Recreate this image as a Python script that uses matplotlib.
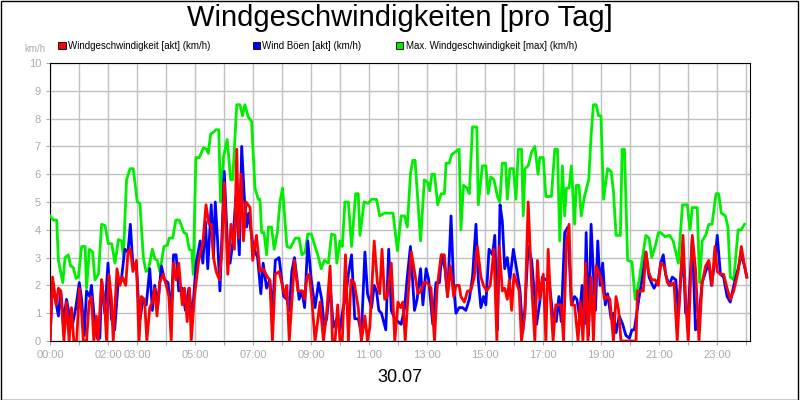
import matplotlib.pyplot as plt
from matplotlib.patches import Rectangle

plt.rcParams["font.family"] = "Liberation Sans"

# Zeit in Stunden, Werte in km/h
max_h = [0, 0.115, 0.23, 0.29, 0.44, 0.52, 0.63, 0.71, 0.80, 0.90, 0.98, 1.09, 1.21, 1.26, 1.36, 1.47,
         1.55, 1.67, 1.78, 1.90, 2.01, 2.13, 2.24, 2.36, 2.47, 2.53, 2.64, 2.76, 2.87, 3.01, 3.10, 3.22,
         3.31, 3.39, 3.53, 3.62, 3.70, 3.79, 3.93, 4.05, 4.11, 4.23, 4.34, 4.46, 4.62, 4.71, 4.80, 4.89,
         4.94, 5.03, 5.15, 5.29, 5.40, 5.46, 5.54, 5.63, 5.72, 5.82, 5.88, 5.98, 6.11, 6.23, 6.30, 6.44,
         6.55, 6.64, 6.72, 6.84, 6.95, 7.07, 7.18, 7.24, 7.30, 7.38, 7.47, 7.53, 7.64, 7.73, 7.84, 7.93,
         8.02, 8.17, 8.29, 8.46, 8.59, 8.69, 8.80, 8.89, 9.01, 9.14, 9.26, 9.35, 9.46, 9.60, 9.71, 9.83,
         9.89, 10.0, 10.08, 10.17, 10.29, 10.40, 10.54, 10.63, 10.69, 10.83, 10.97, 11.09, 11.26, 11.37,
         11.54, 11.83, 11.98, 12.11, 12.23, 12.32, 12.43, 12.51, 12.59, 12.78, 12.91, 13.03, 13.09, 13.17,
         13.26, 13.37, 13.49, 13.60, 13.66, 13.77, 13.85, 13.97, 14.11, 14.17, 14.26, 14.38, 14.46, 14.57,
         14.72, 14.77, 14.91, 15.03, 15.11, 15.2, 15.31, 15.43, 15.51, 15.6, 15.71, 15.77,
         15.86, 15.98, 16.07, 16.15, 16.26, 16.32, 16.38, 16.49, 16.61, 16.72, 16.83, 16.89, 17.01, 17.10,
         17.29, 17.41, 17.5, 17.58, 17.67, 17.75, 17.81, 17.9, 17.98, 18.09, 18.15, 18.24, 18.32, 18.43,
         18.58, 18.66, 18.74, 18.83, 18.92, 19.0, 19.09, 19.23, 19.35, 19.43, 19.52, 19.67, 19.73, 19.81,
         19.92, 20.07, 20.18, 20.32, 20.43, 20.55, 20.66, 20.75, 20.87, 20.98, 21.06, 21.21, 21.37, 21.49,
         21.67, 21.81, 21.98, 22.07, 22.15, 22.32, 22.4, 22.49, 22.61, 22.72, 22.83, 22.97, 23.06, 23.15,
         23.29, 23.38, 23.46, 23.58, 23.73, 23.84, 23.95]
max_v = [4.5, 4.35, 4.35, 2.9, 2.1, 3.0, 3.1, 2.7, 2.65, 2.25, 2.3, 3.4, 3.4, 1.9, 3.3, 3.2,
         2.2, 2.4, 4.2, 4.15, 3.5, 3.5, 2.8, 3.65, 3.6, 3.05, 5.8, 6.2, 6.2, 5.0, 4.95, 3.0,
         2.5, 2.55, 3.3, 2.95, 2.9, 2.5, 3.4, 3.45, 3.7, 3.7, 4.35, 4.35, 3.9, 3.85, 3.3, 3.25,
         2.4, 6.6, 6.6, 6.95, 6.9, 6.75, 7.45, 7.5, 7.6, 7.6, 5.0, 6.6, 7.25, 5.8, 5.8, 8.5,
         8.5, 8.1, 8.5, 8.05, 7.9, 5.5, 5.1, 5.1, 3.9, 3.9, 3.1, 4.1, 4.1, 3.3, 3.9, 5.0,
         5.5, 3.4, 3.35, 3.7, 3.7, 3.1, 3.2, 3.85, 3.85, 3.4, 3.0, 2.6, 2.9, 2.8, 3.85, 3.8,
         2.8, 3.6, 3.4, 5.0, 5.0, 3.4, 5.3, 5.3, 3.8, 5.0, 4.95, 5.1, 5.1, 4.5,
         4.6, 4.6, 3.25, 4.5, 4.5, 4.1, 6.0, 6.5, 6.5, 3.6, 5.8, 5.7, 5.4, 6.0,
         6.0, 4.9, 5.3, 5.3, 6.4, 6.4, 6.7, 6.8, 6.9, 4.0, 5.6, 5.5, 5.3, 7.7,
         7.7, 4.9, 6.3, 6.3, 5.3, 5.9, 5.8, 5.2, 5.0, 6.4, 6.4, 5.1,
         6.2, 6.2, 5.1, 6.9, 6.9, 4.5, 6.2, 6.3, 6.8, 7.0, 6.0, 6.6, 6.6, 5.2,
         5.2, 6.9, 6.9, 3.6, 6.3, 4.5, 5.5, 5.5, 6.3, 4.2, 5.6, 5.6, 4.5, 5.2,
         5.8, 7.4, 8.5, 8.5, 8.1, 8.1, 5.1, 6.2, 6.1, 5.4, 3.8, 3.8, 6.9, 6.9,
         2.9, 2.85, 1.5, 2.2, 3.0, 3.8, 3.7, 3.0, 3.4, 3.9, 3.9, 3.75, 3.8, 3.6,
         2.8, 4.9, 4.9, 4.0, 4.8, 4.8, 2.1, 3.6, 3.8, 4.2, 4.2, 5.3, 5.3, 4.6,
         4.5, 4.1, 2.3, 2.2, 4.0, 4.0, 4.2]

boeen_h = [0, 0.09, 0.17, 0.29, 0.37, 0.46, 0.57, 0.69, 0.78, 0.89, 1.01, 1.09, 1.18, 1.26, 1.37, 1.43,
           1.55, 1.63, 1.72, 1.78, 1.89, 2.0, 2.12, 2.23, 2.35, 2.46, 2.58, 2.69, 2.77, 2.86, 2.98, 3.09,
           3.21, 3.32, 3.44, 3.53, 3.61, 3.72, 3.84, 3.95, 4.07, 4.18, 4.26, 4.35, 4.44, 4.56, 4.67, 4.79,
           4.90, 5.04, 5.18, 5.27, 5.36, 5.44, 5.56, 5.64, 5.70, 5.78, 5.86, 6.01, 6.13, 6.21, 6.30, 6.41,
           6.53, 6.61, 6.70, 6.78, 6.85, 6.99, 7.08, 7.16, 7.27, 7.35, 7.47, 7.58, 7.67, 7.77, 7.90,
           8.06, 8.17, 8.25, 8.34, 8.43, 8.51, 8.59, 8.69, 8.78, 8.89, 9.01, 9.14, 9.26, 9.37, 9.46, 9.54,
           9.66, 9.77, 9.89, 10.0, 10.11, 10.19, 10.29, 10.4, 10.51, 10.63, 10.74, 10.86, 10.95, 11.09,
           11.18, 11.26, 11.34, 11.43, 11.58, 11.68, 11.77, 11.89, 12.0, 12.11, 12.23, 12.32, 12.43, 12.57,
           12.66, 12.78, 12.86, 12.97, 13.06, 13.2, 13.31, 13.43, 13.51, 13.62, 13.71, 13.83, 13.92, 14.0,
           14.11, 14.23, 14.34, 14.46, 14.57, 14.69, 14.77, 14.86, 14.95, 15.03, 15.14, 15.26, 15.34, 15.43,
           15.52, 15.6, 15.68, 15.77,
           15.86, 15.98, 16.09, 16.21, 16.3, 16.38, 16.49, 16.61, 16.72, 16.78, 16.89, 16.98, 17.1, 17.21,
           17.33, 17.46, 17.55, 17.63, 17.75, 17.86, 17.98, 18.09, 18.17, 18.26, 18.35, 18.43, 18.49, 18.57,
           18.66, 18.74, 18.81, 18.89, 18.97, 19.06, 19.15, 19.23, 19.35, 19.43, 19.52, 19.63, 19.75, 19.86,
           19.98, 20.07, 20.15, 20.32, 20.43, 20.55, 20.66, 20.78, 20.83, 20.98, 21.06, 21.15, 21.23, 21.35,
           21.46, 21.58, 21.67, 21.83, 21.92, 22.01, 22.15, 22.26, 22.38, 22.49, 22.61, 22.72, 22.81, 22.93,
           23.01, 23.12, 23.23, 23.35, 23.46, 23.58, 23.73, 23.84, 23.95, 24.03]
boeen_v = [0, 2.1, 1.6, 0.9, 1.8, 0.7, 1.5, 0.8, 0.6, 1.2, 2.1, 1.5, 0.2, 1.8, 1.6, 2.0,
           0.5, 0.1, 0.1, 2.2, 1.0, 2.8, 0.8, 0.4, 2.1, 2.2, 3.3, 3.2, 4.2, 2.7, 2.7, 0.7,
           1.5, 1.3, 2.6, 1.1, 2.0, 1.3, 2.7, 2.2, 2.1, 1.0, 3.1, 3.1, 1.8, 1.9, 1.1, 1.9,
           0.8, 2.8, 3.6, 2.8, 4.3, 2.6, 4.9, 3.0, 5.0, 3.6, 1.8, 6.1, 3.2, 2.8, 3.5, 5.2,
           3.1, 7.0, 5.2, 4.1, 4.6, 3.5, 3.2, 3.0, 1.7, 2.8, 1.9, 2.2, 1.0, 2.9, 3.0,
           1.6, 1.5, 1.1, 2.5, 3.0, 2.3, 1.5, 1.8, 1.2, 3.6, 2.2, 1.2, 2.1, 1.5, 0.5, 0.8,
           2.0, 0.5, 0.8, 0.4, 1.2, 1.5, 2.4, 3.1, 0.8, 0.8, 0.3, 3.2, 1.7, 1.2,
           2.0, 1.8, 1.1, 1.0, 0.4, 3.3, 1.1, 0.8, 0.7, 0.6, 1.2, 2.3, 3.4, 1.1,
           1.5, 2.6, 1.3, 2.6, 2.2, 0.6, 2.1, 2.1, 3.1, 2.6, 1.6, 4.5, 2.0, 1.0,
           1.2, 1.2, 1.1, 1.5, 2.3, 4.2, 2.2, 1.2, 1.6, 1.3, 3.3, 3.1, 3.8, 0.4,
           4.9, 4.3, 2.6, 3.0,
           2.2, 3.3, 2.6, 1.8, 0.3, 1.2, 3.4, 2.9, 1.5, 0.6, 1.4, 2.3, 2.2, 2.2,
           1.0, 0.7, 1.6, 0.7, 3.9, 4.1, 1.3, 1.6, 1.5, 0.9, 2.0, 0.6, 3.9, 0.2,
           4.2, 2.4, 1.1, 3.6, 2.0, 2.8, 1.3, 1.7, 0.8, 1.0, 0.3, 0.9, 0.6, 0.2,
           0.1, 0.4, 0.4, 1.6, 2.3, 3.2, 2.3, 2.0, 1.9, 2.2, 2.8, 3.1, 2.4, 2.0,
           2.3, 2.2, 1.0, 3.3, 1.0, 1.0, 3.7, 0.4, 0.9, 2.1, 2.5, 2.8, 2.0, 2.9,
           3.8, 2.4, 2.3, 1.6, 1.4, 2.0, 2.6, 3.1, 2.7, 2.3]

wind_h = [0, 0.09, 0.21, 0.29, 0.37, 0.48, 0.57, 0.66, 0.74, 0.82, 0.92, 1.01, 1.09, 1.15, 1.26, 1.35,
          1.43, 1.51, 1.6, 1.66, 1.78, 1.89, 1.95, 2.03, 2.12, 2.18, 2.31, 2.41, 2.5, 2.61, 2.69, 2.77,
          2.86, 2.98, 3.07, 3.15, 3.26, 3.34, 3.44, 3.53, 3.61, 3.69, 3.78, 3.9, 4.01, 4.1, 4.18, 4.26,
          4.35, 4.44, 4.56, 4.64, 4.73, 4.81, 4.87, 4.98, 5.13, 5.27, 5.38, 5.48, 5.56, 5.64, 5.73, 5.84,
          5.93, 6.01, 6.13, 6.24, 6.36, 6.44, 6.51, 6.59, 6.67, 6.76, 6.9, 6.99, 7.12, 7.24, 7.35, 7.5,
          7.58, 7.67, 7.77, 7.9,
          8.11, 8.17, 8.25, 8.34, 8.43, 8.55, 8.63, 8.71, 8.78, 8.86, 8.94, 9.03, 9.14, 9.23, 9.31, 9.43,
          9.54, 9.66, 9.74, 9.83, 9.92, 10.0, 10.08, 10.19, 10.29, 10.38, 10.49, 10.63, 10.74, 10.86,
          10.95, 11.03, 11.18, 11.29, 11.37, 11.45, 11.54, 11.63, 11.77, 11.89, 12.0, 12.09, 12.17, 12.25,
          12.34, 12.46, 12.57, 12.69, 12.8, 12.89, 13.01, 13.14, 13.26, 13.35, 13.49, 13.6, 13.71, 13.81,
          13.92, 14.0, 14.11, 14.17, 14.29, 14.4, 14.51, 14.63, 14.74, 14.86, 14.95, 15.06, 15.18, 15.31,
          15.41, 15.49, 15.6, 15.68, 15.77,
          15.84, 15.92, 16.0, 16.09, 16.18, 16.26, 16.38, 16.49, 16.61, 16.72, 16.81, 16.89, 17.01, 17.1,
          17.18, 17.26, 17.35, 17.44, 17.55, 17.63, 17.71, 17.81, 17.9, 17.98, 18.09, 18.21, 18.29, 18.38,
          18.47, 18.55, 18.66, 18.74, 18.83, 18.95, 19.04, 19.12, 19.23, 19.31, 19.43, 19.52, 19.61, 19.69,
          20.21, 20.26, 20.46, 20.55, 20.64, 20.75, 20.87, 20.98, 21.06, 21.18, 21.29, 21.41, 21.52, 21.63,
          21.75, 21.83, 21.92, 22.01, 22.15, 22.26, 22.38, 22.49, 22.61, 22.72, 22.83, 22.93, 23.01, 23.12,
          23.23, 23.35, 23.46, 23.58, 23.73, 23.84, 23.95, 24.03]
wind_v = [0, 2.3, 1.3, 1.9, 1.8, 0, 1.4, 0, 1.2, 0, 0, 1.9, 1.0, 0, 0, 1.4,
          1.6, 0, 0.9, 0, 2.2, 1.2, 0, 2.4, 1.5, 0, 2.6, 2.0, 2.3, 2.0, 3.2, 3.3,
          2.5, 2.9, 0, 1.6, 1.5, 0, 1.2, 1.4, 1.9, 0.9, 2.1, 2.4, 2.0, 1.6, 0, 2.8,
          2.2, 2.8, 1.3, 1.9, 0.7, 1.9, 0, 1.6, 2.9, 3.5, 4.9, 4.2, 4.2, 3.0, 2.5, 2.2,
          3.3, 5.7, 2.4, 4.2, 3.3, 6.9, 3.7, 6.0, 3.6, 5.0, 4.8, 2.9, 3.8, 2.5, 2.6, 2.3,
          2.2, 0, 2.4, 2.5,
          1.6, 2.0, 0, 1.4, 2.9, 1.8, 1.8, 1.8, 1.5, 2.3, 2.4, 1.5, 0, 0.7, 1.4, 0,
          1.0, 2.7, 0, 0, 1.3, 0, 0, 3.1, 0, 2.2, 2.1, 1.2, 0, 0.9,
          0, 0.5, 3.6, 2.1, 1.7, 3.3, 1.5, 1.6, 2.8, 0, 1.4, 1.2, 1.4, 0,
          1.5, 3.2, 2.5, 1.7, 1.8, 2.1, 2.1, 1.9, 0, 1.9, 3.1, 3.1, 1.6, 2.7,
          1.6, 2.0, 2.0, 1.6, 1.4, 1.8, 1.8, 2.3, 3.4, 2.3, 2.0, 1.8, 2.0, 3.3,
          0, 3.4, 1.8, 1.9, 1.5,
          2.2, 1.1, 2.4, 2.1, 1.8, 0, 1.0, 5.0, 2.0, 0, 2.9, 1.5, 2.4, 0,
          3.3, 1.5, 0, 1.3, 1.3, 1.3, 0, 3.5, 4.2, 1.3, 1.3, 0, 1.4, 0,
          2.8, 0, 2.3, 0, 2.7, 2.4, 2.1, 1.5, 1.6, 1.5, 0, 1.6, 1.1, 0,
          0, 1.8, 1.8, 3.2, 2.5, 2.2, 2.2, 2.0, 2.8, 2.7, 2.1, 2.0, 2.1, 0,
          2.4, 3.8, 1.5, 0, 3.8, 2.6, 0, 2.1, 2.7, 2.9, 2.0, 3.4, 2.5, 2.4,
          2.4, 1.9, 1.5, 1.8, 2.5, 3.4, 2.7, 2.3]

tick_hours = list(range(0, 25))
tick_labels = {0: "00:00", 2: "02:00", 3: "03:00", 5: "05:00", 7: "07:00", 9: "09:00", 11: "11:00",
               13: "13:00", 15: "15:00", 17: "17:00", 19: "19:00", 21: "21:00", 23: "23:00"}

fig = plt.figure(figsize=(8, 4), dpi=100)
fig.patches.append(Rectangle((0.001, 0.001), 0.997, 0.997, transform=fig.transFigure,
                             fill=False, edgecolor="black", linewidth=1))
ax = fig.add_axes([0.0625, 0.1475, 0.875, 0.695])

ax.plot(max_h, max_v, color="#00ee00", linewidth=2, zorder=3)
ax.plot(boeen_h, boeen_v, color="#0000ff", linewidth=2, zorder=4)
ax.plot(wind_h, wind_v, color="#ff0000", linewidth=2, zorder=5)

ax.set_xlim(0, 24.14)
ax.set_ylim(0, 10)
ax.set_yticks(range(0, 11))
ax.set_xticks(tick_hours)
ax.set_xticklabels([tick_labels.get(h, "") for h in tick_hours])
ax.tick_params(colors="#aaaaaa", labelsize=8, length=3, labelcolor="#aaaaaa")
ax.grid(True, color="#c0c0c0", linewidth=1)
ax.set_axisbelow(True)
for s in ax.spines.values():
    s.set_color("black")

fig.text(0.5, 0.955, "Windgeschwindigkeiten [pro Tag]", ha="center", va="center", fontsize=21)
fig.text(0.044, 0.878, "km/h", ha="center", va="center", fontsize=7, color="#aaaaaa")
fig.text(0.5, 0.055, "30.07", ha="center", va="center", fontsize=13)

legend = [("#ff0000", "Windgeschwindigkeit [akt] (km/h)", 0.073),
          ("#0000ff", "Wind Böen [akt] (km/h)", 0.316),
          ("#00ee00", "Max. Windgeschwindigkeit [max] (km/h)", 0.495)]
for col, txt, x in legend:
    fig.patches.append(Rectangle((x, 0.877), 0.009, 0.018, transform=fig.transFigure,
                                 facecolor=col, edgecolor="black", linewidth=0.6))
    fig.text(x + 0.012, 0.886, txt, ha="left", va="center", fontsize=7)

fig.savefig("out.png", dpi=100)
